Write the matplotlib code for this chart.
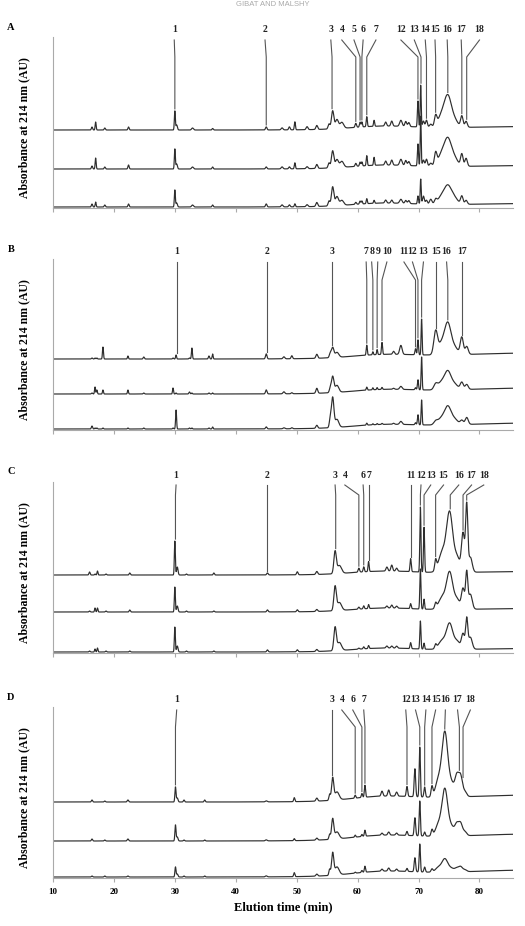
import numpy as np
import matplotlib
matplotlib.use('Agg')
import matplotlib.pyplot as plt

plt.rcParams['font.family'] = ['Liberation Serif', 'DejaVu Serif']

# peak tables:
# retention time (min), width (min), heights (arbitrary absorbance) of the 3 runs
A_t = [16.4, 17.0, 18.5, 22.4, 30.0, 30.3, 32.9, 36.2, 45.0, 47.6, 48.8, 49.7, 51.7,
       53.3, 55.3, 55.9, 56.6, 57.4, 59.7, 60.4, 60.7, 61.5, 62.7, 64.6, 65.6, 67.1,
       67.9, 68.4, 69.9, 70.35, 70.8, 71.3, 72.0, 72.8, 73.8, 74.8, 75.8, 77.1, 77.8]
A_w = [0.1, 0.08, 0.1, 0.1, 0.08, 0.12, 0.15, 0.1, 0.12, 0.15, 0.12, 0.09, 0.15,
       0.15, 0.15, 0.2, 0.25, 0.3, 0.12, 0.1, 0.09, 0.09, 0.09, 0.15, 0.15, 0.2,
       0.15, 0.15, 0.09, 0.08, 0.15, 0.15, 0.2, 0.2, 0.6, 0.55, 0.6, 0.2, 0.2]
A_h1 = [3, 8, 2, 3, 19, 5, 2, 1.5, 3, 2, 3, 8, 3, 4, 5, 18, 9, 6, 4, 5, 5, 10, 6, 4,
        5, 6, 5, 4, 26, 42, 6, 7, 3, 10, 12, 28, 8, 11, 6]
A_h2 = [3, 11, 2, 4, 20, 5, 2, 2, 2, 2, 2, 6, 2, 4, 5, 17, 8, 6, 3, 4, 4, 10, 8, 4,
        5, 6, 5, 4, 22, 50, 6, 7, 3, 12, 12, 24, 9, 12, 8]
A_h3 = [3, 5, 2, 3, 17, 4, 2, 2, 3, 2, 2, 3, 2, 4, 5, 19, 9, 5, 2, 3, 3, 5, 3, 3,
        3, 4, 3, 3, 8, 25, 8, 4, 5, 4, 8, 16, 7, 8, 4]

B_t = [16.4, 16.9, 17.2, 18.2, 22.3, 24.9, 29.7, 30.2, 32.4, 32.8, 35.6, 36.2, 45.0,
       47.9, 49.2, 53.3, 55.5, 55.9, 56.6, 61.5, 62.5, 63.2, 64.0, 65.9, 67.1, 69.5,
       69.9, 70.5, 72.8, 73.8, 74.8, 75.8, 77.1, 77.9]
B_w = [0.1, 0.08, 0.08, 0.08, 0.08, 0.1, 0.08, 0.08, 0.1, 0.08, 0.1, 0.08, 0.12,
       0.15, 0.12, 0.15, 0.15, 0.2, 0.3, 0.09, 0.08, 0.08, 0.09, 0.15, 0.2, 0.1,
       0.09, 0.08, 0.3, 0.6, 0.5, 0.6, 0.25, 0.25]
B_h1 = [1, 1, 1, 12, 3, 2, 1, 4, 1, 11, 3, 5, 5, 2, 3, 4, 4, 10, 5, 10, 3, 5, 12, 3,
        9, 6, 15, 36, 22, 12, 28, 8, 17, 8]
B_h2 = [1, 7, 4, 4, 4, 1, 6, 1, 2, 1, 1, 1, 4, 2, 1, 5, 4, 16, 7, 3, 2, 2, 2, 1,
        3, 2, 10, 33, 5, 8, 16, 6, 7, 5]
B_h3 = [3, 1, 1, 1, 1, 1, 1, 19, 1, 1, 1, 2, 2, 1, 1, 3, 8, 30, 8, 2, 1, 1, 1, 1,
        3, 2, 10, 25, 3, 7, 16, 6, 4, 7]

C_t = [16.0, 16.9, 17.3, 18.7, 22.6, 30.0, 30.4, 31.9, 36.4, 45.2, 50.1, 53.3, 56.3,
       57.0, 60.2, 61.0, 61.8, 64.8, 65.6, 66.4, 68.7, 70.3, 70.9, 72.8, 73.9, 75.1,
       76.3, 77.3, 77.9, 78.5]
C_w = [0.1, 0.08, 0.08, 0.1, 0.1, 0.08, 0.12, 0.1, 0.1, 0.12, 0.12, 0.15, 0.2,
       0.35, 0.12, 0.1, 0.09, 0.15, 0.15, 0.15, 0.1, 0.09, 0.09, 0.15, 0.6, 0.5,
       0.5, 0.25, 0.18, 0.3]
C_h1 = [3, 1, 4, 1, 2, 34, 8, 1, 2, 2, 3, 3, 22, 8, 4, 5, 10, 4, 6, 3, 13, 65, 45,
        10, 20, 58, 15, 38, 66, 15]
C_h2 = [1, 4, 4, 1, 2, 25, 6, 1, 1, 2, 2, 2, 24, 8, 2, 3, 4, 2, 3, 2, 5, 40, 10,
        5, 12, 36, 10, 20, 36, 15]
C_h3 = [1, 3, 4, 1, 1, 25, 6, 1, 1, 2, 2, 2, 23, 8, 1, 2, 3, 2, 2, 2, 6, 28, 6,
        4, 9, 25, 8, 15, 30, 12]

D_t = [16.4, 18.5, 22.3, 30.1, 30.4, 31.5, 34.9, 45.0, 49.6, 53.3, 55.4, 55.9, 56.6,
       59.6, 60.7, 61.2, 64.0, 65.1, 66.4, 68.1, 69.4, 70.2, 71.0, 72.2, 73.3, 74.3,
       75.3, 76.3, 76.9, 77.6]
D_w = [0.1, 0.1, 0.12, 0.09, 0.12, 0.1, 0.1, 0.15, 0.1, 0.15, 0.12, 0.18, 0.35,
       0.1, 0.1, 0.1, 0.15, 0.15, 0.15, 0.12, 0.12, 0.1, 0.12, 0.15, 0.5, 0.45,
       0.6, 0.3, 0.3, 0.3]
D_h1 = [2, 1, 2, 15, 4, 2, 2, 1, 4, 3, 6, 22, 8, 3, 4, 12, 5, 6, 4, 10, 28, 50, 10,
        10, 18, 60, 15, 18, 20, 5]
D_h2 = [2, 1, 2, 16, 4, 1, 1, 1, 2, 2, 5, 20, 7, 2, 2, 6, 2, 3, 2, 4, 18, 35, 4,
        6, 12, 44, 10, 10, 12, 4]
D_h3 = [1, 1, 1, 10, 3, 1, 1, 1, 4, 2, 6, 22, 8, 1, 2, 6, 2, 3, 2, 3, 14, 28, 5,
        3, 5, 12, 4, 3, 5, 2]

# baseline drift: broad hump + late rise (centre, width, height per panel)
drift_t = [64.0, 90.0]
drift_w = [5.0, 16.0]
A_drift = [3, 3.5]
B_drift = [3, 6]
C_drift = [3, 3.5]
D_drift = [4, 7]

# vertical offsets of the three runs
A_off = [78, 39, 1]
B_off = [71, 36, 1]
C_off = [78, 41, 1]
D_off = [76, 37, 1]

# peak numbers, where the numbers sit and which peak they point to
A_labels = ['1', '2', '3', '4', '5', '6', '7', '12', '13', '14', '15', '16', '17', '18']
A_label_t = [29.9, 44.8, 55.6, 57.4, 59.4, 60.9, 63.0, 67.1, 69.3, 71.1, 72.7, 74.7, 77.0, 80.0]
A_line_t = [30.0, 45.0, 55.8, 59.7, 60.4, 60.7, 61.5, 69.9, 70.4, 71.3, 72.8, 74.8, 77.1, 77.9]

B_labels = ['1', '2', '3', '7', '8', '9', '10', '11', '12', '13', '15', '16', '17']
B_label_t = [30.3, 45.2, 55.8, 61.4, 62.3, 63.3, 64.8, 67.6, 69.0, 70.8, 72.8, 74.6, 77.1]
B_line_t = [30.3, 45.2, 55.8, 61.5, 62.5, 63.2, 64.0, 69.5, 69.9, 70.5, 72.8, 74.8, 77.1]

C_labels = ['1', '2', '3', '4', '6', '7', '11', '12', '13', '15', '16', '17', '18']
C_label_t = [30.2, 45.2, 56.3, 57.9, 60.9, 61.8, 68.7, 70.4, 72.0, 74.1, 76.6, 78.7, 80.7]
C_line_t = [30.1, 45.2, 56.4, 60.2, 61.0, 61.8, 68.7, 70.3, 70.9, 72.8, 75.2, 77.3, 77.9]

D_labels = ['1', '3', '4', '6', '7', '12', '13', '14', '15', '16', '17', '18']
D_label_t = [30.3, 55.8, 57.4, 59.2, 61.0, 67.9, 69.5, 71.2, 72.8, 74.4, 76.4, 78.5]
D_line_t = [30.1, 55.8, 59.6, 60.7, 61.2, 68.1, 70.2, 71.0, 72.2, 74.3, 76.7, 77.3]

t = np.linspace(10, 85.5, 4000)


def trace(times, widths, heights, drift):
    y = np.zeros_like(t)
    for c, w, h in zip(times + drift_t, widths + drift_w, heights + drift):
        y += h * np.exp(-0.5 * ((t - c) / w) ** 2)
    return y


panels = [
    ('A', A_t, A_w, [A_h1, A_h2, A_h3], A_drift, A_off, A_labels, A_label_t, A_line_t),
    ('B', B_t, B_w, [B_h1, B_h2, B_h3], B_drift, B_off, B_labels, B_label_t, B_line_t),
    ('C', C_t, C_w, [C_h1, C_h2, C_h3], C_drift, C_off, C_labels, C_label_t, C_line_t),
    ('D', D_t, D_w, [D_h1, D_h2, D_h3], D_drift, D_off, D_labels, D_label_t, D_line_t),
]

W, H = 525, 926
fig = plt.figure(figsize=(W / 100, H / 100), dpi=100)

bottoms_px = [208, 430, 653, 878]
kink = [151, 150, 158, 151]
ax_h = 171

# running head of the page, only partly visible in the scan
fig.text(0.52, 1 - 1.5 / H, 'GIBAT AND MALSHY', ha='center', va='top', fontsize=5.5,
         color='#aaaaaa', family='Liberation Sans')

for i, (name, tt, ww, hs, drift, offs, labels, lab_t, line_t) in enumerate(panels):
    b = bottoms_px[i]
    ax = fig.add_axes([53 / W, 1 - b / H, 460 / W, ax_h / H])
    ys = []
    for h, off in zip(hs, offs):
        y = trace(tt, ww, h, drift) + off
        ys.append(y)
        ax.plot(t, y, color='#2e2e2e', lw=0.85)

    # peak numbers and leader lines
    top = ax_h - 3
    for lab, lx, px in zip(labels, lab_t, line_t):
        win = (t > px - 0.2) & (t < px + 0.2)
        y_end = ys[0][win].max() + 2
        ax.plot([lx, px, px], [top, kink[i], y_end], color='#555555', lw=0.8,
                clip_on=False)
        ax.text(lx, ax_h + 7, lab, ha='center', va='center', fontsize=7,
                fontweight='bold', color='#222222')

    ax.set_xlim(10, 85.5)
    ax.set_ylim(0, ax_h)
    ax.set_yticks([])
    ax.set_xticks(range(10, 90, 10))
    for s in ['top', 'right']:
        ax.spines[s].set_visible(False)
    for s in ['left', 'bottom']:
        ax.spines[s].set_color('#aaaaaa')
        ax.spines[s].set_linewidth(0.8)
    ax.tick_params(axis='x', direction='out', length=3, color='#aaaaaa',
                   labelsize=6.5, pad=4)
    if i < 3:
        ax.tick_params(axis='x', labelbottom=False)
    else:
        for lbl in ax.get_xticklabels():
            lbl.set_fontweight('bold')
        ax.set_xlabel('Elution time (min)', fontsize=9, fontweight='bold', labelpad=4)

    ax.set_ylabel('Absorbance at 214 nm (AU)', fontsize=8.5, fontweight='bold')
    ax.yaxis.set_label_coords(-23 / 460, 0.47)

    fig.text(11 / W, 1 - (b - ax_h - 10) / H, name, ha='center', va='center',
             fontsize=7.5, fontweight='bold')

fig.savefig('out.png', dpi=100)
